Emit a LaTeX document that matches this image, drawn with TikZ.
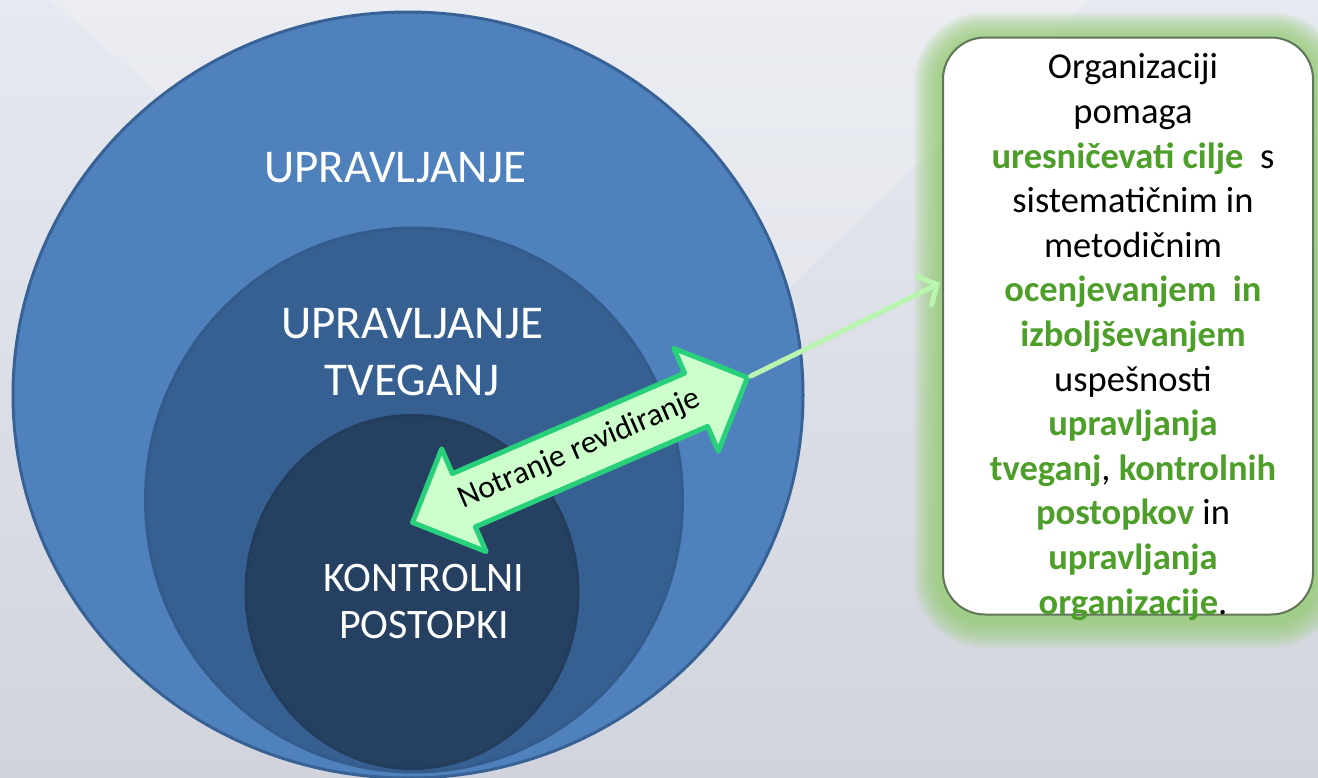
\documentclass[tikz,border=0pt]{standalone}
\usepackage{fontspec}
\setmainfont{Carlito}
\usetikzlibrary{arrows.meta,positioning,shapes.geometric,shapes.arrows}
\definecolor{bgtop}{RGB}{230,233,240}
\definecolor{bgbot}{RGB}{209,212,220}
\definecolor{ringouter}{RGB}{79,129,189}
\definecolor{ringmid}{RGB}{54,96,146}
\definecolor{ringinner}{RGB}{38,64,97}
\definecolor{ringline}{RGB}{56,98,150}
\definecolor{auditfill}{RGB}{204,255,204}
\definecolor{auditline}{RGB}{40,208,124}
\definecolor{wordgreen}{RGB}{78,158,42}
\definecolor{glowgreen}{RGB}{150,205,115}
\definecolor{linkgreen}{RGB}{185,245,175}
\definecolor{boxline}{RGB}{96,118,88}
\newcommand{\hl}[1]{\textcolor{wordgreen}{\bfseries #1}}
\pgfdeclarelayer{back}
\pgfdeclarelayer{glow}
\pgfsetlayers{back,glow,main}

\begin{document}
\begin{tikzpicture}[x=1pt,y=-1pt,
    ring/.style={ellipse,inner sep=0,line width=3},
    ringtext/.style={text=white,align=center},
    audit/.style={double arrow,double arrow head extend=27,draw=auditline,fill=auditfill,
      line width=5,line join=round,rotate=23.4,minimum height=365,inner xsep=0,inner ysep=12,
      text height=22,text depth=7,font=\fontsize{32}{34}\selectfont},
    infobox/.style={draw=boxline,line width=2,fill=white,rounded corners=42,
      minimum width=370,minimum height=577},
    link/.style={draw=linkgreen,line width=5,line cap=round,
      -{Straight Barb[length=14pt,width=32pt,line cap=round]}}]
  \useasboundingbox (0,0) rectangle (1318,777);
  \clip (0,0) rectangle (1318,777);
  % background
  \begin{pgfonlayer}{back}
    \shade[top color=bgtop,bottom color=bgbot] (0,0) rectangle (1318,777);
    \fill[white,opacity=.2] (50,0) -- (1088,0) -- (600,470) -- cycle;
  \end{pgfonlayer}

  % nested rings
  \node[ring,draw=ringline,fill=ringouter,minimum width=790,minimum height=766] (outer) at (408,395) {};
  \node[ring,draw=ringmid!95!black,fill=ringmid,minimum width=537,minimum height=544] (middle) at (414,500) {};
  \node[ring,draw=ringinner!95!black,fill=ringinner,minimum width=332,minimum height=353] (inner) at (412,592) {};
  \node[ringtext,font=\fontsize{47}{57}\selectfont] (outertxt) at (395,168) {UPRAVLJANJE};
  \node[ringtext,font=\fontsize{47}{57}\selectfont] (middletxt) at (412,352) {UPRAVLJANJE\\TVEGANJ};
  \node[ringtext,font=\fontsize{42}{47}\selectfont] (innertxt) at (424,602) {KONTROLNI\\POSTOPKI};

  % audit arrow and text box
  \node[audit] (audit) at (580,450) {Notranje revidiranje};
  \node[infobox] (info) at (1128,326) {};
  \begin{pgfonlayer}{glow}
    \foreach \w in {4,8,...,56}
      \draw[glowgreen,line width=\w,draw opacity=.1,rounded corners=42]
        ([yshift=-4]info.north west) rectangle ([yshift=-4]info.south east);
  \end{pgfonlayer}
  \node[align=center,font=\fontsize{36.5}{44.6}\selectfont] (infotxt) at (1133,337)
    {Organizaciji\\pomaga\\\hl{uresničevati cilje}\ \ s\\sistematičnim in\\metodičnim\\
     \hl{ocenjevanjem\ \ in}\\\hl{izboljševanjem}\\uspešnosti\\\hl{upravljanja}\\
     \hl{tveganj}, \hl{kontrolnih}\\\hl{postopkov} in\\\hl{upravljanja}\\\hl{organizacije}.};
  \coordinate (infoin) at (940,283);
  \draw[link] (audit.east) -- (infoin);
\end{tikzpicture}
\end{document}
